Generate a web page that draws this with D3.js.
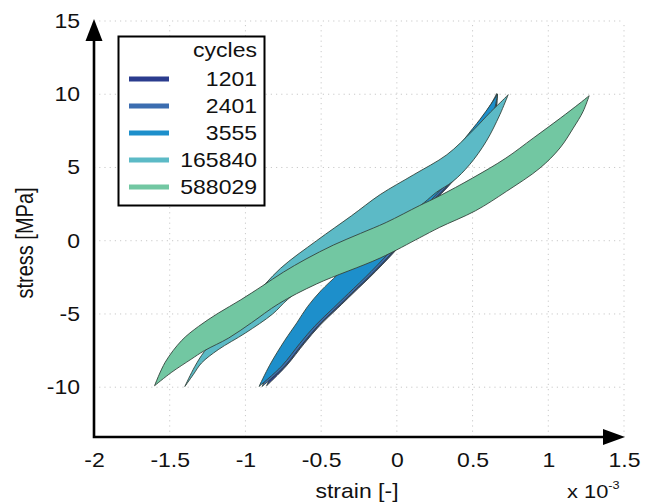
<!DOCTYPE html>
<html>
<head>
<meta charset="utf-8">
<script src="https://cdn.jsdelivr.net/npm/d3@7"></script>
<style>
  html, body { margin: 0; padding: 0; background: #fff; }
  svg { display: block; font-family: "Liberation Sans", Arial, Helvetica, sans-serif; }
</style>
</head>
<body>
<svg id="chart" width="656" height="503"></svg>
<script>
// Stress–strain hysteresis loops at several load-cycle counts.
// Strain values are in units of 1e-3, stress in MPa.

const cycles = ["1201", "2401", "3555", "165840", "588029"];
const loopColors = ["#2b3c8e", "#3b6db0", "#1d8fcb", "#5cbac6", "#72c7a2"];

const xTicks = [-2, -1.5, -1, -0.5, 0, 0.5, 1, 1.5];
const xTickLabels = ["-2", "-1.5", "-1", "-0.5", "0", "0.5", "1", "1.5"];
const yTicks = [-10, -5, 0, 5, 10, 15];
const yTickLabels = ["-10", "-5", "0", "5", "10", "15"];

// Each loop: edge from the compressive tip to the tensile tip, then back.
const loop1201Up = [[-0.86,-9.9],[-0.80,-8.5],[-0.71,-6.8],[-0.635,-5.6],[-0.565,-4.5],[-0.48,-3.4],[-0.37,-2.3],[-0.205,-0.5],[-0.04,1.3],[0.125,3.0],[0.305,5.0],[0.455,7.0],[0.555,8.3],[0.62,9.3],[0.66,10.05]];
const loop1201Down = [[0.66,10.05],[0.655,8.8],[0.60,7.4],[0.52,6.0],[0.43,4.8],[0.33,3.6],[0.18,2.0],[0.03,-0.2],[-0.14,-2.1],[-0.29,-3.6],[-0.39,-4.6],[-0.51,-5.8],[-0.61,-7.0],[-0.73,-8.55],[-0.86,-9.9]];

const loop2401Up = [[-0.89,-9.95],[-0.825,-8.5],[-0.725,-6.8],[-0.645,-5.6],[-0.575,-4.5],[-0.485,-3.4],[-0.375,-2.3],[-0.21,-0.5],[-0.04,1.3],[0.13,3.0],[0.31,5.0],[0.455,7.0],[0.555,8.3],[0.625,9.3],[0.665,10.0]];
const loop2401Down = [[0.665,10.0],[0.65,8.8],[0.595,7.4],[0.515,6.0],[0.425,4.8],[0.32,3.6],[0.17,2.0],[0.02,-0.2],[-0.15,-2.1],[-0.30,-3.6],[-0.40,-4.6],[-0.52,-5.8],[-0.62,-7.0],[-0.74,-8.55],[-0.89,-9.95]];

const loop3555Up = [[-0.91,-9.95],[-0.84,-8.5],[-0.74,-6.8],[-0.66,-5.6],[-0.59,-4.5],[-0.5,-3.4],[-0.39,-2.3],[-0.22,-0.5],[-0.05,1.3],[0.12,3.0],[0.3,5.0],[0.45,7.0],[0.55,8.3],[0.62,9.3],[0.665,10.0]];
const loop3555Down = [[0.665,10.0],[0.64,8.8],[0.58,7.4],[0.5,6.0],[0.41,4.8],[0.3,3.6],[0.16,2.0],[0.0,-0.2],[-0.17,-2.1],[-0.32,-3.6],[-0.42,-4.6],[-0.54,-5.8],[-0.64,-7.0],[-0.76,-8.55],[-0.91,-9.95]];

const loop165840Up = [[-1.40,-9.95],[-1.335,-8.6],[-1.27,-7.55],[-1.1,-5.6],[-0.95,-3.9],[-0.77,-1.9],[-0.53,0.0],[-0.3,1.7],[-0.11,3.15],[0.11,4.5],[0.33,5.87],[0.5,7.5],[0.62,8.8],[0.70,9.6],[0.735,9.97]];
const loop165840Down = [[0.735,9.97],[0.68,8.6],[0.59,6.78],[0.48,5.19],[0.37,4.05],[0.26,3.3],[0.18,2.6],[0.05,1.6],[-0.4,-1.5],[-0.72,-4.0],[-0.82,-5.0],[-1.0,-6.3],[-1.18,-7.44],[-1.29,-8.35],[-1.345,-9.15],[-1.40,-9.95]];

const loop588029Up = [[-1.60,-9.9],[-1.53,-8.3],[-1.42,-6.8],[-1.31,-5.85],[-1.18,-4.95],[-1.03,-4.03],[-0.89,-3.1],[-0.75,-2.15],[-0.6,-1.25],[-0.42,-0.3],[-0.24,0.5],[-0.07,1.25],[0.15,2.4],[0.28,3.05],[0.50,4.28],[0.72,5.64],[0.90,7.0],[1.08,8.37],[1.21,9.4],[1.27,9.9]];
const loop588029Down = [[1.27,9.9],[1.23,8.83],[1.165,7.69],[1.077,6.33],[0.945,4.96],[0.724,3.37],[0.52,2.05],[0.28,0.9],[0.15,0.2],[-0.11,-1.18],[-0.53,-2.95],[-0.78,-4.3],[-0.96,-5.6],[-1.11,-6.64],[-1.27,-7.5],[-1.36,-8.1],[-1.49,-9.0],[-1.60,-9.9]];

const loops = [
  [loop1201Up, loop1201Down],
  [loop2401Up, loop2401Down],
  [loop3555Up, loop3555Down],
  [loop165840Up, loop165840Down],
  [loop588029Up, loop588029Down]
];

const svg = d3.select("#chart");
const x = d3.scaleLinear().domain([-2, 1.5]).range([94, 624]);
const y = d3.scaleLinear().domain([-13.4, 15]).range([437, 21]);

const fontSize = 20;
const stretch = 1.15;   // text is drawn slightly wide
const ink = "#111";

function label(parent, px, py, str, anchor) {
  return parent.append("text")
    .attr("transform", `translate(${px},${py}) scale(${stretch},1)`)
    .attr("text-anchor", anchor || "start")
    .attr("font-size", fontSize).attr("fill", ink).text(str);
}

// dotted grid
const grid = svg.append("g").attr("stroke", "#c9c9c9").attr("stroke-width", 1)
  .attr("stroke-dasharray", "1.2,4");
grid.selectAll("line.v").data(xTicks.slice(1)).join("line")
  .attr("x1", d => x(d)).attr("x2", d => x(d))
  .attr("y1", y(-13.4)).attr("y2", y(15));
grid.selectAll("line.h").data(yTicks).join("line")
  .attr("x1", x(-2)).attr("x2", x(1.5))
  .attr("y1", d => y(d)).attr("y2", d => y(d));

// loops
const edge = d3.line().x(d => x(d[0])).y(d => y(d[1])).curve(d3.curveCatmullRom.alpha(0.5));
svg.append("g").selectAll("path").data(loops).join("path")
  .attr("d", d => edge(d[0]) + edge(d[1]).replace(/^M/, "L") + "Z")
  .attr("fill", (d, i) => loopColors[i])
  .attr("stroke", "#34443c")
  .attr("stroke-width", 0.9)
  .attr("stroke-linejoin", "round");

// tick labels via d3 axes (domain lines replaced by arrow axes below)
const xAxis = svg.append("g").attr("transform", `translate(0,${y(-13.4)})`)
  .call(d3.axisBottom(x).tickValues(xTicks).tickSize(0).tickPadding(16)
    .tickFormat((d, i) => xTickLabels[i]));
const yAxis = svg.append("g").attr("transform", `translate(${x(-2)},0)`)
  .call(d3.axisLeft(y).tickValues(yTicks).tickSize(0).tickPadding(12.2)
    .tickFormat((d, i) => yTickLabels[i]));
[xAxis, yAxis].forEach(a => {
  a.select(".domain").remove();
  a.selectAll("text").attr("font-size", fontSize).attr("fill", ink)
    .attr("font-family", "'Liberation Sans', Arial, sans-serif")
    .attr("transform", `scale(${stretch},1)`);
});

// arrow axes
const axes = svg.append("g");
const x0 = x(-2), y0 = y(-13.4), xEnd = x(1.5) + 1, yEnd = y(15) - 2;
axes.append("path")
  .attr("d", `M${x0},${yEnd + 20}L${x0},${y0}L${xEnd - 20},${y0}`)
  .attr("fill", "none").attr("stroke", "#000").attr("stroke-width", 2.6);
axes.append("path")
  .attr("d", `M${x0},${yEnd}L${x0 - 8.5},${yEnd + 22}L${x0 + 8.5},${yEnd + 22}Z`)
  .attr("fill", "#000");
axes.append("path")
  .attr("d", `M${xEnd},${y0}L${xEnd - 22},${y0 - 8}L${xEnd - 22},${y0 + 8}Z`)
  .attr("fill", "#000");

// axis titles
label(svg, 357, 498, "strain [-]", "middle");
const sci = svg.append("text")
  .attr("transform", `translate(567,498) scale(${stretch},1)`)
  .attr("font-size", 19).attr("fill", ink);
sci.append("tspan").text("x 10");
sci.append("tspan").attr("dy", -9).attr("font-size", 11).text("-3");
svg.append("text")
  .attr("transform", `translate(33,243) scale(${stretch},1) rotate(-90)`)
  .attr("text-anchor", "middle").attr("font-size", fontSize).attr("fill", ink)
  .text("stress [MPa]");

// legend
const lg = svg.append("g");
lg.append("rect").attr("x", 118.5).attr("y", 36.5).attr("width", 146).attr("height", 169)
  .attr("fill", "#fff").attr("stroke", "#000").attr("stroke-width", 2);
label(lg, 257, 57, "cycles", "end");
const rowY = d3.scalePoint().domain(cycles).range([79, 187]);
cycles.forEach((c, i) => {
  lg.append("line").attr("x1", 129).attr("x2", 169)
    .attr("y1", rowY(c)).attr("y2", rowY(c))
    .attr("stroke", loopColors[i]).attr("stroke-width", 5);
  label(lg, 257, rowY(c) + 7, c, "end");
});
</script>
</body>
</html>
